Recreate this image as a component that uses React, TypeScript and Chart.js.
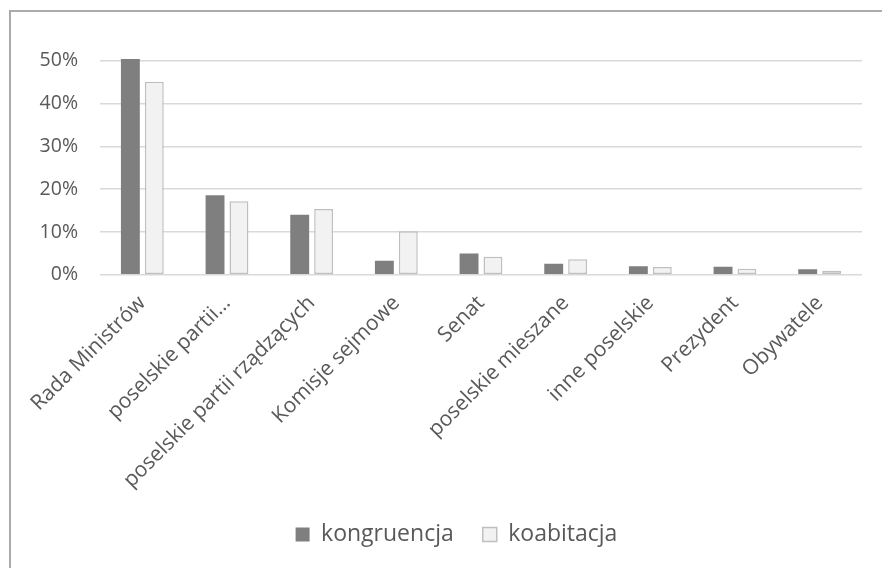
import React, { useEffect, useRef } from "react";
import { Chart, registerables } from "chart.js";

Chart.register(...registerables);

// Bill sources: share of drafts by initiator, under congruence vs. cohabitation
const categories = [
  "Rada Ministrów",
  "poselskie partii…",
  "poselskie partii rządzących",
  "Komisje sejmowe",
  "Senat",
  "poselskie mieszane",
  "inne poselskie",
  "Prezydent",
  "Obywatele",
];

const kongruencja = [50.4, 18.6, 14.0, 3.3, 5.0, 2.6, 2.0, 1.9, 1.3];
const koabitacja = [45.1, 17.2, 15.4, 10.2, 4.2, 3.6, 1.8, 1.4, 0.95];

const seriesNames = ["kongruencja", "koabitacja"];

const FONT = "'Open Sans', 'Noto Sans', sans-serif";
const TEXT = "#595959";

// Moves the legend sideways so it is centred on the whole frame, not the plot
const legendShift = {
  id: "legendShift",
  afterLayout(chart: any) {
    const lg = chart.legend;
    if (!lg) return;
    lg.left += 20;
    lg.right += 20;
  },
};

export default function App() {
  const ref = useRef<HTMLCanvasElement | null>(null);

  useEffect(() => {
    if (!ref.current) return;
    const chart = new Chart(ref.current, {
      type: "bar",
      data: {
        labels: categories,
        datasets: [
          {
            label: seriesNames[0],
            data: kongruencja,
            backgroundColor: "#7f7f7f",
            borderColor: "#7f7f7f",
            borderWidth: 0,
            categoryPercentage: 0.565,
            barPercentage: 0.79,
          },
          {
            label: seriesNames[1],
            data: koabitacja,
            backgroundColor: "#f2f2f2",
            borderColor: "#bfbfbf",
            borderWidth: 1.5,
            borderSkipped: false,
            categoryPercentage: 0.565,
            barPercentage: 0.79,
          },
        ],
      },
      options: {
        animation: false,
        responsive: true,
        maintainAspectRatio: false,
        layout: { padding: { top: 36, right: 67, bottom: 16, left: 0 } },
        scales: {
          x: {
            grid: { display: false },
            border: { display: false },
            ticks: {
              color: TEXT,
              font: { family: FONT, size: 21 },
              padding: 8,
              minRotation: 45,
              maxRotation: 45,
              autoSkip: false,
            },
            afterFit: (scale: any) => {
              scale.height -= 7;
            },
          },
          y: {
            min: 0,
            max: 53,
            border: { display: false },
            grid: { color: "#d9d9d9", lineWidth: 1.5, drawTicks: false },
            ticks: {
              stepSize: 10,
              includeBounds: false,
              padding: 22,
              color: TEXT,
              font: { family: FONT, size: 19.5 },
              callback: (v: any) => `${v}%`,
            },
            afterFit: (scale: any) => {
              scale.width = 89;
            },
          },
        },
        plugins: {
          legend: {
            position: "bottom",
            labels: {
              boxWidth: 14,
              boxHeight: 14,
              padding: 29,
              color: TEXT,
              font: { family: FONT, size: 23 },
            },
          },
          tooltip: { enabled: false },
        },
      },
      plugins: [legendShift],
    });
    return () => chart.destroy();
  }, []);

  return (
    <div style={{ position: "fixed", inset: 0, overflow: "hidden", background: "#fff" }}>
      <div
        style={{
          position: "absolute",
          left: 9,
          top: 10,
          width: 918,
          height: 570,
          border: "2px solid #ababab",
          background: "#fff",
        }}
      >
        <div style={{ position: "relative", width: 918, height: 560 }}>
          <canvas ref={ref} />
        </div>
      </div>
    </div>
  );
}
